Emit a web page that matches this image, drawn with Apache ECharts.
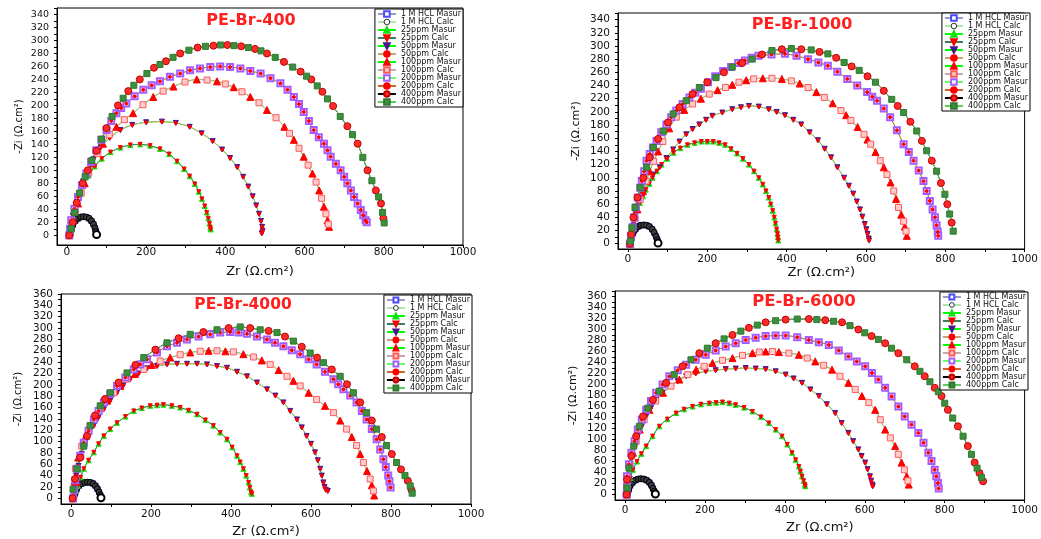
<!DOCTYPE html>
<html>
<head>
<meta charset="utf-8">
<script src="https://cdn.jsdelivr.net/npm/echarts@6/dist/echarts.min.js"></script>
<style>
  html, body { margin: 0; padding: 0; background: #fff; }
  #nyquist { width: 1041px; height: 539px; }
</style>
</head>
<body>
<div id="nyquist"></div>
<script>
// points: [Zr, -Zi] in ohm.cm2
const br400_hcl = [[8,0],[11,8],[15,16],[21,22],[28,26],[35,28],[42,28.5],[49,28],[56,26],[62,22],[67,17],[71,11],[73,6],[75,1]]
const br400_25 = [[6,0],[10,15],[15,30],[22,45],[32,62],[43,78],[55,92],[70,106],[88,118],[110,128],[135,135],[160,139],[185,140],[210,138],[235,133],[258,125],[278,114],[296,102],[310,91],[323,79],[333,67],[341,56],[348,45],[353,35],[357,26],[360,18],[362,12],[363,9]]
const br400_50 = [[6,0],[10,15],[15,30],[22,47],[31,65],[41,83],[53,100],[67,117],[85,135],[108,150],[135,162],[165,170],[200,174],[240,175],[275,173],[310,167],[340,157],[368,145],[392,132],[412,119],[430,105],[445,90],[458,75],[469,60],[478,46],[485,33],[490,22],[493,13],[494,7],[492,3]]
const br400_100 = [[6,0],[10,10],[15,23],[21,36],[28,49],[36,65],[45,80],[55,96],[66,111],[78,126],[91,141],[107,155],[125,167],[145,178],[167,188],[192,201],[218,213],[243,222],[269,229],[298,236],[328,240],[354,239],[379,237],[400,233],[421,228],[442,221],[463,213],[485,204],[505,193],[528,181],[549,167],[562,157],[573,147],[586,134],[598,121],[609,108],[620,95],[629,82],[637,69],[643,57],[649,44],[654,33],[658,23],[660,17],[662,13]]
const br400_200 = [[6,0],[8,10],[11,23],[19,41],[28,59],[38,77],[49,95],[61,113],[74,131],[87,147],[100,162],[112,176],[125,188],[137,196],[150,203],[171,214],[193,224],[214,231],[235,237],[260,244],[286,249],[311,254],[336,257],[362,259],[387,260],[412,259],[438,257],[463,253],[489,249],[514,242],[539,234],[557,224],[573,213],[586,202],[598,190],[611,176],[623,162],[636,151],[649,141],[658,131],[666,121],[679,110],[691,100],[700,90],[708,80],[717,69],[725,59],[734,49],[742,39],[748,31],[754,23],[757,20]]
const br400_400 = [[6,0],[10,10],[15,20],[20,35],[25,50],[32,65],[40,80],[46,90],[53,100],[63,115],[75,130],[87,148],[100,165],[114,183],[129,200],[142,211],[155,222],[169,231],[184,240],[202,249],[220,258],[235,263],[250,268],[268,274],[286,280],[308,285],[330,289],[350,291],[370,292],[388,293],[405,293],[422,292],[440,291],[458,289],[475,287],[490,284],[505,280],[526,274],[548,267],[570,259],[590,252],[605,245],[617,240],[632,230],[645,221],[658,210],[672,199],[690,183],[708,168],[721,155],[734,141],[747,120],[759,100],[770,84],[780,69],[787,59],[793,49],[797,35],[799,26],[801,19]]

const br1000_hcl = [[6,0],[9,8],[13,16],[19,22],[26,26],[33,28],[40,28.5],[47,28],[54,26],[61,22],[66,17],[71,11],[74,6],[76,1]]
const br1000_25 = [[5,0],[8,10],[12,22],[18,40],[24,52],[30,62],[38,72],[45,82],[54,91],[62,100],[73,110],[85,120],[99,129],[115,138],[132,145],[150,150],[168,153],[185,155],[200,155],[215,155],[230,153],[245,150],[260,144],[275,137],[290,129],[305,120],[318,110],[330,100],[340,90],[348,80],[355,70],[360,60],[365,50],[369,40],[372,31],[375,22],[377,15],[378,10],[379,5]]
const br1000_50 = [[5,0],[9,12],[14,28],[20,45],[28,62],[38,78],[50,93],[64,105],[80,116],[97,130],[114,143],[130,155],[147,166],[163,174],[180,181],[197,188],[213,194],[238,199],[263,204],[285,207],[305,209],[330,208],[355,204],[375,200],[396,195],[417,188],[437,181],[458,169],[479,157],[496,144],[512,131],[528,116],[545,100],[557,88],[568,76],[577,64],[585,52],[591,41],[597,30],[601,22],[604,15],[607,8],[608,5]]
const br1000_100 = [[6,0],[9,12],[13,25],[18,38],[24,52],[31,67],[38,80],[46,95],[55,110],[65,125],[76,140],[88,155],[104,175],[122,192],[142,203],[163,212],[184,220],[205,227],[226,233],[246,237],[263,241],[280,245],[298,248],[317,250],[340,251],[363,251],[388,250],[412,247],[433,243],[454,237],[475,230],[495,222],[516,213],[537,202],[550,195],[562,187],[579,177],[595,166],[604,158],[612,151],[624,139],[636,126],[645,116],[653,105],[662,93],[670,80],[676,68],[682,55],[689,44],[695,34],[698,26],[701,19],[703,12]]
const br1000_200 = [[5,0],[8,12],[12,25],[16,40],[20,55],[25,70],[31,85],[35,95],[41,110],[47,126],[55,136],[63,146],[72,156],[84,169],[97,181],[109,192],[122,202],[138,212],[155,222],[170,229],[184,235],[202,245],[220,254],[240,262],[260,268],[278,274],[295,278],[312,282],[329,285],[362,287],[396,288],[425,285],[454,280],[480,275],[504,270],[528,261],[553,250],[578,240],[603,230],[616,223],[628,217],[645,205],[661,192],[678,172],[695,151],[708,139],[720,126],[733,111],[745,95],[753,80],[761,65],[768,52],[774,40],[778,28],[781,18],[782,12]]
const br1000_400 = [[5,0],[6,4],[8,14],[10,24],[14,40],[18,55],[24,70],[31,85],[39,100],[47,116],[55,131],[64,146],[76,159],[89,171],[101,184],[114,197],[130,207],[147,217],[163,227],[180,237],[200,245],[222,252],[242,260],[263,268],[288,274],[313,280],[338,287],[363,293],[388,295],[412,296],[437,295],[462,294],[483,291],[504,288],[525,282],[545,275],[564,269],[583,263],[604,254],[624,245],[645,232],[665,219],[680,209],[695,199],[712,185],[728,171],[741,156],[753,141],[766,126],[778,110],[789,92],[799,75],[805,60],[811,45],[816,32],[820,19]]

const br4000_hcl = [[7,0],[10,8],[14,16],[20,22],[27,26],[34,28],[41,28.5],[48,28],[55,26],[61,22],[66,17],[70,11],[73,6],[75,1]]
const br4000_25 = [[5,0],[7,5],[12,13],[17,22],[24,37],[32,52],[44,67],[57,81],[69,96],[82,110],[98,122],[115,133],[136,144],[157,154],[177,159],[198,163],[215,164],[231,165],[252,163],[273,160],[294,155],[315,148],[336,138],[356,128],[373,116],[390,104],[403,90],[415,75],[423,64],[431,52],[438,40],[444,28],[447,19],[450,11],[452,8]]
const br4000_50 = [[5,0],[6,10],[7,22],[13,40],[19,57],[27,78],[36,98],[46,113],[57,128],[69,143],[82,157],[98,172],[115,186],[131,199],[148,210],[169,220],[190,229],[215,233],[240,236],[265,237],[290,237],[315,237],[340,236],[365,233],[390,230],[415,223],[440,215],[465,204],[490,192],[511,181],[531,169],[548,154],[565,139],[577,125],[589,110],[600,96],[610,81],[617,67],[623,52],[627,40],[631,28],[634,20],[637,15],[642,13]]
const br4000_100 = [[5,0],[7,15],[9,30],[11,52],[18,72],[27,92],[37,110],[48,128],[60,143],[73,157],[90,172],[107,186],[123,198],[140,210],[160,219],[182,227],[202,235],[223,242],[248,248],[273,253],[298,257],[323,259],[344,260],[365,260],[386,259],[406,258],[431,254],[456,249],[477,243],[498,236],[519,226],[540,215],[556,207],[573,198],[594,186],[614,174],[635,163],[656,151],[673,137],[689,122],[702,108],[714,93],[723,78],[731,63],[740,48],[748,34],[752,23],[756,13],[758,5]]
const br4000_200 = [[5,0],[8,15],[11,32],[15,52],[23,75],[32,98],[44,119],[57,139],[69,154],[82,169],[98,184],[115,198],[136,213],[157,227],[173,236],[190,245],[215,257],[240,268],[265,274],[290,280],[319,285],[348,289],[373,292],[398,293],[419,292],[440,290],[465,285],[490,280],[510,274],[531,268],[552,261],[573,254],[594,245],[614,236],[635,223],[656,210],[668,201],[681,192],[698,181],[714,169],[727,154],[739,139],[752,122],[764,104],[773,86],[781,69],[787,55],[793,40],[796,30],[799,19]]
const br4000_400 = [[4,0],[5,16],[10,34],[15,52],[23,72],[32,92],[40,110],[48,128],[60,146],[73,163],[85,175],[98,186],[119,204],[140,221],[161,235],[182,248],[211,262],[240,274],[269,282],[298,289],[331,293],[365,297],[394,300],[423,302],[448,300],[473,297],[494,295],[515,292],[535,285],[556,277],[577,267],[598,256],[615,248],[631,239],[652,227],[673,215],[690,201],[706,186],[723,169],[739,151],[752,137],[764,122],[777,108],[789,93],[802,78],[814,63],[825,51],[835,40],[842,31],[848,22],[851,15],[853,9]]

const br6000_hcl = [[6,0],[9,8],[13,16],[19,22],[26,26],[33,28],[40,28.5],[47,28],[54,26],[61,22],[66,17],[70,11],[73,6],[76,1]]
const br6000_25 = [[5,0],[7,15],[13,30],[20,45],[30,60],[41,74],[53,88],[69,106],[86,124],[106,137],[128,148],[148,155],[169,160],[190,164],[211,166],[228,167],[244,168],[261,166],[277,163],[298,158],[319,151],[340,141],[360,130],[377,118],[393,106],[406,91],[418,76],[427,63],[435,51],[439,42],[443,33],[447,25],[450,18],[451,15]]
const br6000_50 = [[5,0],[6,12],[7,27],[13,48],[20,70],[26,88],[32,106],[42,124],[53,142],[65,157],[78,172],[94,185],[111,197],[132,206],[153,215],[177,220],[202,224],[227,226],[252,228],[277,229],[302,230],[327,229],[352,228],[377,224],[402,218],[422,211],[443,203],[464,191],[485,179],[505,164],[526,148],[542,130],[559,112],[571,97],[584,82],[592,70],[601,58],[607,46],[613,33],[616,25],[619,18],[620,15]]
const br6000_100 = [[5,0],[6,15],[7,33],[13,55],[20,76],[28,97],[37,118],[48,136],[61,154],[77,170],[95,185],[115,197],[136,209],[157,218],[178,227],[198,233],[219,239],[244,244],[269,248],[294,253],[319,257],[336,259],[352,260],[369,260],[385,259],[410,257],[435,254],[456,248],[476,242],[497,235],[518,227],[538,215],[559,203],[576,191],[593,179],[610,167],[626,154],[639,136],[651,118],[664,103],[676,88],[684,73],[692,58],[699,45],[705,33],[708,25],[710,18]]
const br6000_200 = [[4,0],[5,15],[5,33],[10,55],[16,76],[24,97],[32,118],[42,136],[53,154],[65,170],[78,185],[94,200],[111,215],[132,226],[153,236],[177,245],[202,254],[227,262],[252,269],[277,275],[302,281],[327,285],[352,288],[377,289],[402,289],[431,286],[460,281],[485,277],[510,272],[535,262],[559,251],[580,242],[601,233],[618,221],[634,209],[651,194],[667,178],[684,160],[700,142],[717,127],[734,112],[747,94],[759,76],[767,61],[775,45],[779,33],[783,21],[785,11]]
const br6000_400 = [[4,0],[5,12],[5,27],[10,48],[16,70],[22,88],[28,106],[36,124],[45,142],[57,157],[70,172],[86,188],[103,203],[123,218],[144,233],[165,245],[186,257],[206,266],[227,275],[248,283],[269,290],[290,297],[310,303],[331,308],[352,313],[377,316],[402,318],[431,319],[460,319],[480,318],[501,317],[522,315],[543,313],[563,307],[584,300],[600,294],[617,288],[634,282],[651,275],[667,266],[684,257],[705,245],[725,233],[738,224],[750,215],[763,205],[775,194],[784,187],[792,179],[800,166],[808,154],[820,139],[833,124],[846,106],[858,88],[867,73],[875,58],[881,48],[887,39],[892,31],[896,24]]

const seriesNames = ['1 M HCL Masur', '1 M HCL Calc', '25ppm Masur', '25ppm Calc', '50ppm Masur', '50ppm Calc',
  '100ppm Masur', '100ppm Calc', '200ppm Masur', '200ppm Calc', '400ppm Masur', '400ppm Calc']
const panelTitles = ['PE-Br-400', 'PE-Br-1000', 'PE-Br-4000', 'PE-Br-6000']

// tick labels
const xLabels = [0, 200, 400, 600, 800, 1000]
const xTicks = [0, 100, 200, 300, 400, 500, 600, 700, 800, 900, 1000]
const yLabels340 = [0, 20, 40, 60, 80, 100, 120, 140, 160, 180, 200, 220, 240, 260, 280, 300, 320, 340]
const yLabels360 = [0, 20, 40, 60, 80, 100, 120, 140, 160, 180, 200, 220, 240, 260, 280, 300, 320, 340, 360]
const yTicks350 = [0, 10, 20, 30, 40, 50, 60, 70, 80, 90, 100, 110, 120, 130, 140, 150, 160, 170, 180, 190, 200, 210, 220, 230, 240, 250, 260, 270, 280, 290, 300, 310, 320, 330, 340, 350]
const yTicks370 = [0, 10, 20, 30, 40, 50, 60, 70, 80, 90, 100, 110, 120, 130, 140, 150, 160, 170, 180, 190, 200, 210, 220, 230, 240, 250, 260, 270, 280, 290, 300, 310, 320, 330, 340, 350, 360, 370]

const FONT = '"DejaVu Sans", sans-serif'

// layout of the four panels
const panels = [
  { arcs: [br400_hcl, br400_25, br400_50, br400_100, br400_200, br400_400],
    grid: { left: 57, top: 8, width: 406, height: 237 }, yMin: -15, yMax: 350,
    yLabels: yLabels340, yTicks: yTicks350, title: [251, 21, 16], legendRight: 578, legendTop: 9, lh: 8,
    xMargin: 2, xGap: 20, yGap: 33, yNameSize: 10, yLabelSize: 9.5 },
  { arcs: [br1000_hcl, br1000_25, br1000_50, br1000_100, br1000_200, br1000_400],
    grid: { left: 618, top: 13, width: 412, height: 236 }, yMin: -8, yMax: 350,
    yLabels: yLabels340, yTicks: yTicks350, title: [802, 25, 16], legendRight: 11, legendTop: 13, lh: 8,
    xMargin: 5, xGap: 17, yGap: 36, yNameSize: 11, yLabelSize: 10.5 },
  { arcs: [br4000_hcl, br4000_25, br4000_50, br4000_100, br4000_200, br4000_400],
    grid: { left: 61, top: 294, width: 410, height: 211 }, yMin: -10, yMax: 360,
    yLabels: yLabels360, yTicks: yTicks370, title: [243, 305, 15.5], legendRight: 569, legendTop: 295, lh: 7,
    xMargin: 5, xGap: 21, yGap: 38, yNameSize: 10, yLabelSize: 10.5 },
  { arcs: [br6000_hcl, br6000_25, br6000_50, br6000_100, br6000_200, br6000_400],
    grid: { left: 615, top: 291, width: 412, height: 209 }, yMin: -10, yMax: 370,
    yLabels: yLabels360, yTicks: yTicks370, title: [804, 302, 16.5], legendRight: 13, legendTop: 292, lh: 7,
    xMargin: 5, xGap: 21, yGap: 36, yNameSize: 11, yLabelSize: 10.5 },
]

// marker / line look of each legend entry; alt = markers alternate with the partner series
const looks = [
  { sym: 'emptyRect', size: 4, fill: '#4a4aff', border: '#4a4aff', line: '#9a9ac8' },
  { sym: 'circle', size: 6, fill: '#3c3c3c', border: '#000', line: '#1a1a1a', width: 6 },
  { sym: 'triangle', size: 5, fill: '#11e011', border: '#11e011', line: '#00ff00' },
  { sym: 'triangle', size: 4, rot: 180, fill: '#ff0000', border: '#ff0000', line: '#3f7a5a' },
  { sym: 'triangle', size: 5, rot: 180, fill: '#4a1590', border: '#4a1590', line: '#00ff00' },
  { sym: 'circle', size: 3, fill: '#ff0000', border: '#ff0000', line: '#c8a474' },
  { sym: 'triangle', size: 7, fill: '#ff0000', border: '#ff0000', line: '#00ff00', alt: true },
  { sym: 'rect', size: 6, fill: '#ffcccc', border: '#ff5a5a', line: '#c8a8a8', alt: true },
  { sym: 'emptyRect', size: 6, fill: '#a35cff', border: '#a35cff', line: '#66ff66' },
  { sym: 'circle', size: 3, fill: '#ff0000', border: '#ff0000', line: '#cc6422' },
  { sym: 'circle', size: 7, fill: '#ff2b2b', border: '#c00000', line: '#000000', alt: true },
  { sym: 'rect', size: 6, fill: '#3d8f3d', border: '#2f7a2f', line: '#5ccc5c', alt: true },
]

const series = []
panels.forEach((p, pi) => {
  p.arcs.forEach((arc, k) => {
    [0, 1].forEach(j => {
      const lk = looks[k * 2 + j]
      let data = arc
      if (lk.alt) {
        data = arc.map((pt, i) => (i % 2 === j ? pt : { value: pt, symbol: 'none' }))
      } else if (k === 0 && j === 1) {
        // the 1 M HCL fit ends with an open circle
        data = arc.map((pt, i) => i === arc.length - 1
          ? { value: pt, symbol: 'emptyCircle', symbolSize: 7, itemStyle: { color: '#000', borderColor: '#000', borderWidth: 1.5 } }
          : pt)
      }
      series.push({
        name: seriesNames[k * 2 + j],
        type: 'line',
        xAxisIndex: pi,
        yAxisIndex: pi,
        data: data,
        smooth: 0.25,
        symbol: lk.sym,
        symbolSize: lk.size,
        symbolRotate: lk.rot || 0,
        showSymbol: true,
        lineStyle: { color: lk.line, width: lk.width || 1 },
        itemStyle: { color: lk.fill, borderColor: lk.border, borderWidth: 1 },
        emphasis: { disabled: true },
      })
    })
  })
})

const legendData = seriesNames.map(n => n === '1 M HCL Calc'
  ? { name: n, itemStyle: { color: '#fff', borderColor: '#333', borderWidth: 1 }, lineStyle: { color: '#5ccc5c', width: 1 } }
  : { name: n })

const option = {
  animation: false,
  backgroundColor: '#fff',
  grid: panels.map(p => Object.assign({ show: true, borderColor: '#000', borderWidth: 1 }, p.grid)),
  xAxis: panels.map((p, i) => ({
    type: 'value', gridIndex: i, min: -25, max: 1000,
    name: 'Zr (Ω.cm²)', nameLocation: 'middle', nameGap: p.xGap,
    nameTextStyle: { fontFamily: FONT, fontSize: 13, color: '#111' },
    axisLine: { onZero: false, lineStyle: { color: '#000', width: 1 } },
    axisTick: { customValues: xTicks, length: 3, lineStyle: { color: '#000' } },
    axisLabel: { customValues: xLabels, margin: p.xMargin, fontFamily: FONT, fontSize: 10.5, color: '#111',
      formatter: v => String(v) },
    splitLine: { show: false },
  })),
  yAxis: panels.map((p, i) => ({
    type: 'value', gridIndex: i, min: p.yMin, max: p.yMax,
    name: '-Zi (Ω.cm²)', nameLocation: 'middle', nameGap: p.yGap, nameRotate: 90,
    nameTextStyle: { fontFamily: FONT, fontSize: p.yNameSize, color: '#111' },
    axisLine: { onZero: false, lineStyle: { color: '#000', width: 1 } },
    axisTick: { customValues: p.yTicks, length: 3, lineStyle: { color: '#000' } },
    axisLabel: { customValues: p.yLabels, margin: 8, fontFamily: FONT, fontSize: p.yLabelSize, color: '#111',
      formatter: v => String(v) },
    splitLine: { show: false },
  })),
  legend: panels.map(p => ({
    data: legendData,
    orient: 'vertical',
    right: p.legendRight,
    top: p.legendTop,
    itemWidth: 18,
    itemHeight: p.lh - 1,
    itemGap: 0,
    padding: [1, 2, 1, 2],
    backgroundColor: '#fff',
    borderColor: '#000',
    borderWidth: 1,
    selectedMode: false,
    textStyle: { fontFamily: FONT, fontSize: 8, lineHeight: p.lh, color: '#111' },
  })),
  graphic: panels.map((p, i) => ({
    type: 'text', x: p.title[0], y: p.title[1], z: 100,
    style: { text: panelTitles[i], fill: '#ff2020', font: 'bold ' + p.title[2] + 'px ' + FONT, align: 'center', verticalAlign: 'middle' },
  })),
  series: series,
}

const myChart = echarts.init(document.getElementById('nyquist'))
myChart.setOption(option)
</script>
</body>
</html>
